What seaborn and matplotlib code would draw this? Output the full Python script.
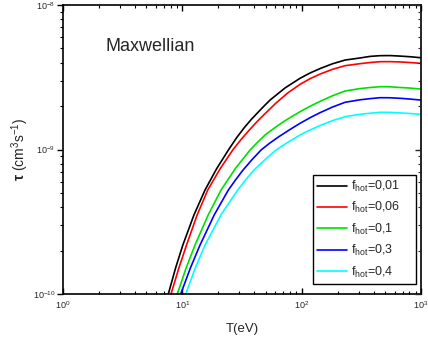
import numpy as np
import pandas as pd
import matplotlib
matplotlib.use("Agg")
import matplotlib.pyplot as plt
import seaborn as sns

# ---- data (decade exponents: log10 T, log10 tau) ----
labels = ["f$_{hot}$=0,01", "f$_{hot}$=0,06", "f$_{hot}$=0,1", "f$_{hot}$=0,3", "f$_{hot}$=0,4"]
colors = ["#000000", "#ff0000", "#00e000", "#0000ff", "#00ffff"]

logT_001 = [0.8826, 0.9435, 1.0043, 1.0973, 1.1903, 1.288, 1.3856, 1.4527, 1.5198, 1.5787,
            1.6375, 1.6862, 1.7348, 1.8608, 1.9868, 2.0705, 2.1542, 2.2589, 2.3636, 2.49,
            2.5736, 2.6571, 2.741, 2.8248, 2.9087, 2.9926]
logtau_001 = [-10.000, -9.820, -9.661, -9.453, -9.280, -9.132, -9.004, -8.921, -8.848, -8.791,
              -8.740, -8.698, -8.658, -8.574, -8.507, -8.4705, -8.440, -8.4066, -8.381, -8.3665,
              -8.3556, -8.3507, -8.350, -8.3536, -8.358, -8.3645]

logT_006 = [0.9053, 0.9703, 1.0352, 1.1241, 1.2129, 1.3177, 1.4225, 1.4920, 1.5616, 1.6274,
            1.6932, 1.7854, 1.886, 1.9866, 2.0704, 2.1542, 2.259, 2.3638, 2.4895, 2.5734,
            2.6572, 2.741, 2.8248, 2.9087, 2.9926]
logtau_006 = [-10.000, -9.822, -9.661, -9.453, -9.2803, -9.132, -9.0035, -8.931, -8.865, -8.806,
              -8.752, -8.678, -8.607, -8.549, -8.510, -8.478, -8.445, -8.420, -8.406, -8.398,
              -8.3924, -8.392, -8.394, -8.398, -8.4035]

logT_01 = [0.9581, 1.0323, 1.1065, 1.2155, 1.3244, 1.446, 1.5675, 1.6304, 1.6932, 1.7687,
           1.8441, 1.9154, 1.9866, 2.0704, 2.1542, 2.259, 2.3638, 2.4895, 2.5734, 2.6572,
           2.741, 2.8248, 2.9087, 2.9926]
logtau_01 = [-10.000, -9.819, -9.661, -9.455, -9.2803, -9.130, -9.0035, -8.950, -8.8997, -8.853,
             -8.8097, -8.773, -8.7384, -8.701, -8.667, -8.628, -8.5952, -8.5785, -8.571, -8.5654,
             -8.566, -8.5709, -8.575, -8.5813]

logT_03 = [0.9866, 1.0675, 1.1484, 1.267, 1.3856, 1.4472, 1.5088, 1.5843, 1.6597, 1.7322,
           1.8047, 1.8957, 1.9866, 2.0704, 2.1542, 2.259, 2.3638, 2.4895, 2.5734, 2.6572,
           2.741, 2.8248, 2.9087, 2.9926]
logtau_03 = [-10.000, -9.820, -9.661, -9.453, -9.2803, -9.209, -9.1419, -9.070, -9.0035, -8.956,
             -8.9136, -8.865, -8.8187, -8.780, -8.745, -8.706, -8.6734, -8.656, -8.648, -8.6415,
             -8.642, -8.6457, -8.651, -8.6574]

logT_04 = [1.0285, 1.1094, 1.1903, 1.3274, 1.4644, 1.5327, 1.601, 1.6932, 1.7854, 1.886,
           1.9866, 2.0704, 2.1542, 2.259, 2.3638, 2.4895, 2.5734, 2.6572, 2.741, 2.8248,
           2.9087, 2.9926]
logtau_04 = [-10.000, -9.818, -9.661, -9.447, -9.2803, -9.208, -9.1419, -9.070, -9.0035, -8.949,
             -8.8997, -8.865, -8.834, -8.800, -8.773, -8.7564, -8.749, -8.7426, -8.743, -8.7467,
             -8.751, -8.7564]

series_logT = [logT_001, logT_006, logT_01, logT_03, logT_04]
series_logtau = [logtau_001, logtau_006, logtau_01, logtau_03, logtau_04]

frames = []
for lab, lT, lt in zip(labels, series_logT, series_logtau):
    frames.append(pd.DataFrame({"T": 10.0 ** np.array(lT),
                                "tau": 10.0 ** np.array(lt),
                                "series": lab}))
df = pd.concat(frames, ignore_index=True)

# ---- style ----
sns.set_style("white")
plt.rcParams["font.family"] = ["Liberation Sans", "DejaVu Sans"]
plt.rcParams["mathtext.fontset"] = "custom"
plt.rcParams["mathtext.rm"] = "Liberation Sans"
plt.rcParams["mathtext.it"] = "Liberation Sans:italic"
plt.rcParams["mathtext.bf"] = "Liberation Sans:bold"
plt.rcParams["mathtext.default"] = "regular"

fig = plt.figure(figsize=(4.28, 3.45), dpi=100)
ax = fig.add_axes([63 / 428, 1 - 294 / 345, (421 - 63) / 428, (294 - 5) / 345])

sns.lineplot(data=df, x="T", y="tau", hue="series", hue_order=labels,
             palette=colors, sort=False, estimator=None, linewidth=1.2,
             legend=False, ax=ax)

ax.set_xscale("log")
ax.set_yscale("log")
ax.set_xlim(1, 1000)
ax.set_ylim(1e-10, 1e-8)

for sp in ax.spines.values():
    sp.set_linewidth(1.2)
    sp.set_color("black")

ax.tick_params(axis="x", which="both", direction="in", top=True, bottom=True,
               labelsize=6.5, pad=4, color="black")
ax.tick_params(axis="x", which="major", length=4, width=1)
ax.tick_params(axis="x", which="minor", length=2.5, width=0.8)
ax.tick_params(axis="y", which="both", direction="out", left=True, right=False,
               labelsize=6.5, pad=1.5, color="black")
ax.tick_params(axis="y", which="major", length=4, width=1)
ax.tick_params(axis="y", which="minor", length=2.5, width=0.8)

tw = ax.twinx()
tw.set_yscale("log")
tw.set_ylim(ax.get_ylim())
tw.tick_params(axis="y", which="both", direction="in", labelright=False, right=True)
tw.tick_params(axis="y", which="major", length=4, width=1)
tw.tick_params(axis="y", which="minor", length=2.5, width=0.8)
for sp in tw.spines.values():
    sp.set_visible(False)

ax.set_xlabel("T(eV)", fontsize=9.5)
ax.set_ylabel(r"$\mathbf{\tau}$ (cm$^{3}$s$^{-1}$)", fontsize=10)
ax.xaxis.set_label_coords(0.5, -0.10)
ax.yaxis.set_label_coords(-0.09, 0.5)

ax.text(0.12, 0.858, "Maxwellian", transform=ax.transAxes, fontsize=13,
        ha="left", va="center")

handles = ax.get_lines()[:5]
leg_labels = [lab + "    " for lab in labels]
leg = ax.legend(handles, leg_labels, loc="lower right", bbox_to_anchor=(0.985, 0.035),
                frameon=True, fancybox=False, edgecolor="black", framealpha=1,
                fontsize=9, handlelength=2.4, handletextpad=0.3,
                labelspacing=0.5, borderpad=0.35, borderaxespad=0)
leg.get_frame().set_linewidth(1.0)

fig.savefig("out.png", dpi=100)
